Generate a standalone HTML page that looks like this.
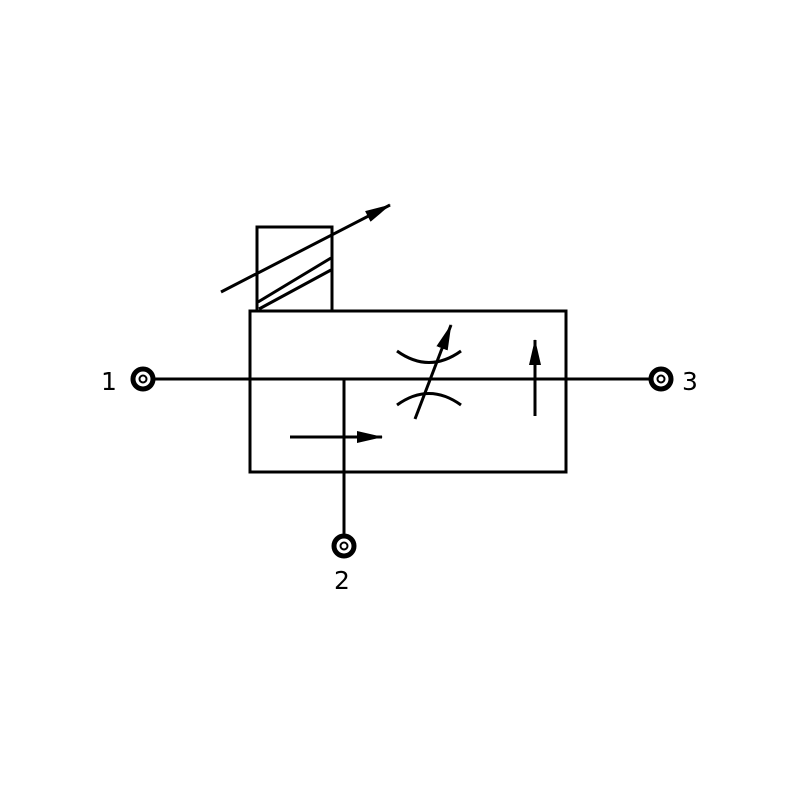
<!DOCTYPE html><html><head><style>body{margin:0;background:#fff}</style></head><body>
<svg width="800" height="800" xmlns="http://www.w3.org/2000/svg">
<defs><marker id="b" markerWidth="26" markerHeight="12" refX="25" refY="6" orient="auto" markerUnits="userSpaceOnUse"><path d="M0,0 L26,6 L0,12z" fill="#000"/></marker></defs>
<g stroke="#000" stroke-width="3" fill="none">
<rect x="250" y="311" width="316" height="161"/>
<rect x="257" y="227" width="75" height="84"/>
<line x1="221" y1="292" x2="390" y2="205" marker-end="url(#b)"/>
<line x1="258" y1="302" x2="331" y2="258"/>
<line x1="259" y1="309" x2="331" y2="270"/>
<line x1="143" y1="379" x2="661" y2="379"/>
<line x1="344" y1="379" x2="344" y2="546"/>
<line x1="290" y1="437" x2="382" y2="437" marker-end="url(#b)"/>
<line x1="535" y1="416" x2="535" y2="340" marker-end="url(#b)"/>
<path d="M397,351 Q429,374 461,351"/>
<path d="M397,405 Q429,382 461,405"/>
<line x1="415" y1="419" x2="451" y2="325" marker-end="url(#b)"/>
</g>
<g fill="#fff" stroke="#000">
<circle cx="143" cy="379" r="10" stroke-width="5"/><circle cx="143" cy="379" r="3.5" stroke-width="2"/>
<circle cx="661" cy="379" r="10" stroke-width="5"/><circle cx="661" cy="379" r="3.5" stroke-width="2"/>
<circle cx="344" cy="546" r="10" stroke-width="5"/><circle cx="344" cy="546" r="3.5" stroke-width="2"/>
</g>
<g font-family="DejaVu Sans, sans-serif" font-size="25" fill="#000">
<text x="101" y="390">1</text><text x="682" y="390">3</text><text x="334" y="589">2</text>
</g>
</svg></body></html>
